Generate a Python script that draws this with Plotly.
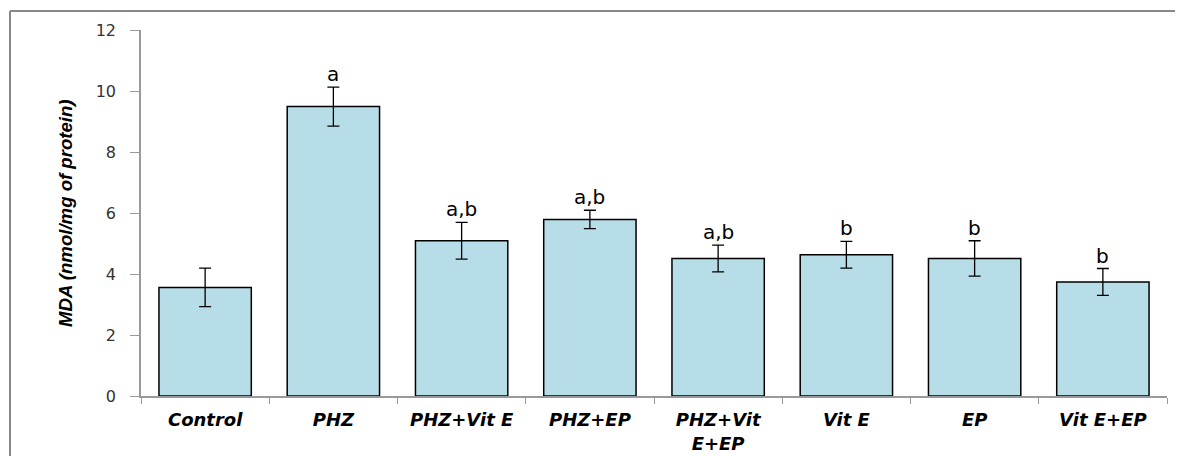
import plotly.graph_objects as go

categories = ["Control", "PHZ", "PHZ+Vit E", "PHZ+EP", "PHZ+Vit<br>E+EP", "Vit E", "EP", "Vit E+EP"]
mda_values = [3.56, 9.49, 5.09, 5.79, 4.51, 4.63, 4.51, 3.74]
mda_errors = [0.63, 0.64, 0.60, 0.30, 0.44, 0.44, 0.58, 0.44]
sig_labels = ["", "a", "a,b", "a,b", "a,b", "b", "b", "b"]
y_ticks = [0, 2, 4, 6, 8, 10, 12]

# page offset compensation (body margin of the html page)
OFF = 8
W, H = 1183 - OFF, 456 - OFF
L, R, T, B = 141 - OFF, 16, 30 - OFF, 60
PW, PH = W - L - R, H - T - B


def px_x(x):
    return (x - OFF - L) / PW


def px_y(y):
    return (H - B - (y - OFF)) / PH


fig = go.Figure()
fig.add_trace(go.Bar(
    x=categories, y=mda_values,
    marker=dict(color="#b7dde8", line=dict(color="black", width=1.5)),
    width=0.72,
    error_y=dict(type="data", array=mda_errors, visible=True,
                 color="black", thickness=1.3, width=6),
    showlegend=False,
))

for c, v, e, s in zip(categories, mda_values, mda_errors, sig_labels):
    if s:
        fig.add_annotation(x=c, y=v + e, text=s, showarrow=False,
                           xanchor="center", yanchor="bottom", yshift=-1,
                           font=dict(family="DejaVu Sans", size=20, color="black"))

fig.add_annotation(xref="paper", yref="paper", x=px_x(65), y=0.5,
                   text="<b><i>MDA (nmol/mg of protein)</i></b>", textangle=-90,
                   showarrow=False, xanchor="center", yanchor="middle",
                   font=dict(family="Liberation Sans", size=18.6, color="black"))

# outer frame lines (top and left)
fig.add_shape(type="line", xref="paper", yref="paper",
              x0=px_x(10), x1=px_x(1190), y0=px_y(11), y1=px_y(11),
              line=dict(color="#888888", width=2))
fig.add_shape(type="line", xref="paper", yref="paper",
              x0=px_x(10), x1=px_x(10), y0=px_y(11), y1=px_y(470),
              line=dict(color="#888888", width=2))

fig.update_xaxes(
    automargin=False,
    showline=True, linecolor="#999999", linewidth=1.5,
    ticks="outside", tickson="boundaries", ticklen=6, tickcolor="#999999",
    ticklabelstandoff=7,
    tickfont=dict(family="DejaVu Sans", size=18, color="black"),
    tickprefix="<b><i>", ticksuffix="</i></b>",
    showgrid=False, zeroline=False,
)
fig.update_yaxes(
    automargin=False,
    range=[0, 12], tickvals=y_ticks,
    showline=True, linecolor="#999999", linewidth=1.5,
    ticks="outside", ticklen=9, tickcolor="#999999",
    ticklabelstandoff=11,
    tickfont=dict(family="DejaVu Sans", size=16, color="#333333"),
    showgrid=False, zeroline=False,
)
fig.update_layout(
    width=W, height=H,
    margin=dict(l=L, r=R, t=T, b=B, autoexpand=False),
    plot_bgcolor="white", paper_bgcolor="white",
)
fig.write_html("out.html")
